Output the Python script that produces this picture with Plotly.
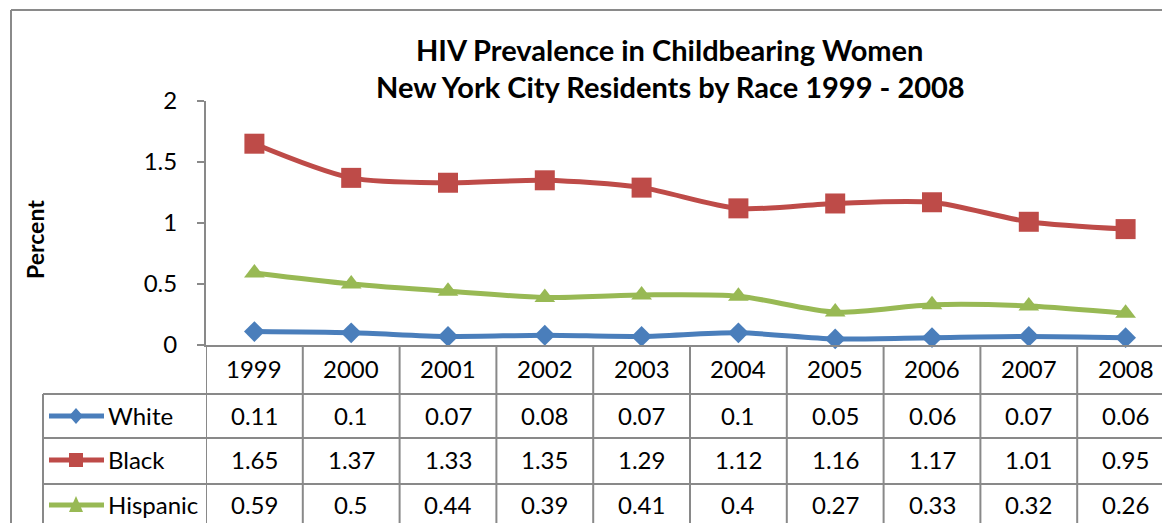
import plotly.graph_objects as go

years = ["1999", "2000", "2001", "2002", "2003", "2004", "2005", "2006", "2007", "2008"]
series_names = ["White", "Black", "Hispanic"]
white = [0.11, 0.1, 0.07, 0.08, 0.07, 0.1, 0.05, 0.06, 0.07, 0.06]
black = [1.65, 1.37, 1.33, 1.35, 1.29, 1.12, 1.16, 1.17, 1.01, 0.95]
hispanic = [0.59, 0.5, 0.44, 0.39, 0.41, 0.4, 0.27, 0.33, 0.32, 0.26]
y_ticks = [0, 0.5, 1, 1.5, 2]
y_tick_text = ["0", "0.5", "1", "1.5", "2"]

W, H = 1162, 523
def fx(px): return px / W
def fy(py): return 1 - py / H

FONT = "Lato"
GRID = "#898989"
colors = ["#4A7EBB", "#BE4B48", "#98B954"]
symbols = ["diamond", "square", "triangle-up"]
msizes = [16, 20, 18]
data = [white, black, hispanic]

x_idx = list(range(len(years)))
fig = go.Figure()
for name, vals, c, s, ms in zip(series_names, data, colors, symbols, msizes):
    fig.add_trace(go.Scatter(
        x=x_idx, y=vals, mode="lines+markers", name=name,
        line=dict(color=c, width=5, shape="spline", smoothing=0.8),
        marker=dict(symbol=s, size=ms, color=c, line=dict(width=0)),
        cliponaxis=False, showlegend=False))

plot_left, plot_top, plot_bottom = 206, 101, 345
col_w = 96.8
x_end = (W - plot_left) / col_w - 0.5

shapes = []
# outer chart border
shapes.append(dict(type="line", xref="paper", yref="paper", x0=fx(11), x1=fx(11), y0=fy(10), y1=fy(H + 5), line=dict(color="#8a8a8a", width=2)))
shapes.append(dict(type="line", xref="paper", yref="paper", x0=fx(11), x1=fx(W + 5), y0=fy(10), y1=fy(10), line=dict(color="#8a8a8a", width=2)))
# table verticals
for i in range(len(years)):
    xv = i - 0.5
    shapes.append(dict(type="line", xref="x", yref="paper", x0=xv, x1=xv, y0=fy(plot_bottom), y1=fy(H + 5), line=dict(color=GRID, width=2)))
shapes.append(dict(type="line", xref="paper", yref="paper", x0=fx(43), x1=fx(43), y0=fy(394), y1=fy(H + 5), line=dict(color=GRID, width=2)))
# table horizontals
for py in [394, 438, 484]:
    shapes.append(dict(type="line", xref="paper", yref="paper", x0=fx(43), x1=fx(W + 5), y0=fy(py), y1=fy(py), line=dict(color=GRID, width=2)))

row_centers = [415, 459, 504]
annotations = []
TS = 24
for i, yr in enumerate(years):
    annotations.append(dict(x=i, y=fy(368), xref="x", yref="paper", text=yr, showarrow=False,
                            xanchor="center", yanchor="middle", font=dict(family=FONT, size=TS, color="black")))
for r, (name, vals, c, s) in enumerate(zip(series_names, data, colors, symbols)):
    yc = row_centers[r]
    for i, v in enumerate(vals):
        annotations.append(dict(x=i, y=fy(yc), xref="x", yref="paper", text=f"{v:g}", showarrow=False,
                                xanchor="center", yanchor="middle", font=dict(family=FONT, size=TS, color="black")))
    annotations.append(dict(x=fx(106), y=fy(yc), xref="paper", yref="paper", text=name, showarrow=False,
                            xanchor="left", yanchor="middle", font=dict(family=FONT, size=TS, color="black")))
    ky = yc + 1
    shapes.append(dict(type="line", xref="paper", yref="paper", x0=fx(49), x1=fx(104), y0=fy(ky), y1=fy(ky), line=dict(color=c, width=5)))
    cx, cy = 76, ky
    if s == "diamond":
        pts = [(cx, cy - 8), (cx + 7, cy), (cx, cy + 8), (cx - 7, cy)]
    elif s == "square":
        pts = [(cx - 7, cy - 7), (cx + 7, cy - 7), (cx + 7, cy + 7), (cx - 7, cy + 7)]
    else:
        pts = [(cx, cy - 9), (cx + 7, cy + 7), (cx - 7, cy + 7)]
    path = "M " + " L ".join(f"{fx(a)},{fy(b)}" for a, b in pts) + " Z"
    shapes.append(dict(type="path", xref="paper", yref="paper", path=path, fillcolor=c, line=dict(width=0)))

annotations.append(dict(x=fx(669), y=fy(49), xref="paper", yref="paper", text="<b>HIV Prevalence in Childbearing Women</b>",
                        showarrow=False, xanchor="center", yanchor="middle", font=dict(family=FONT, size=29, color="black")))
annotations.append(dict(x=fx(670), y=fy(87), xref="paper", yref="paper", text="<b>New York City Residents by Race 1999 - 2008</b>",
                        showarrow=False, xanchor="center", yanchor="middle", font=dict(family=FONT, size=29, color="black")))
annotations.append(dict(x=fx(35), y=fy(240), xref="paper", yref="paper", text="<b>Percent</b>", textangle=-90,
                        showarrow=False, xanchor="center", yanchor="middle", font=dict(family=FONT, size=23, color="black")))

fig.update_layout(
    width=W, height=H, autosize=False,
    margin=dict(l=0, r=0, t=0, b=0, autoexpand=False),
    paper_bgcolor="white", plot_bgcolor="white",
    xaxis=dict(domain=[fx(plot_left), 1], range=[-0.5, x_end], showticklabels=False, showgrid=False,
               zeroline=False, showline=True, linecolor=GRID, linewidth=2, ticks=""),
    yaxis=dict(domain=[fy(plot_bottom), fy(plot_top)], range=[0, 2], tickvals=y_ticks, ticktext=y_tick_text,
               showgrid=False, zeroline=False, showline=True, linecolor=GRID, linewidth=2,
               ticks="outside", ticklen=7, tickwidth=2, tickcolor=GRID, ticklabelstandoff=15,
               tickfont=dict(family=FONT, size=TS, color="black")),
    shapes=shapes, annotations=annotations,
)
fig.write_html("out.html", config={"displayModeBar": False},
               post_script="document.body.style.margin='0';document.documentElement.style.overflow='hidden';document.body.style.overflow='hidden';")
